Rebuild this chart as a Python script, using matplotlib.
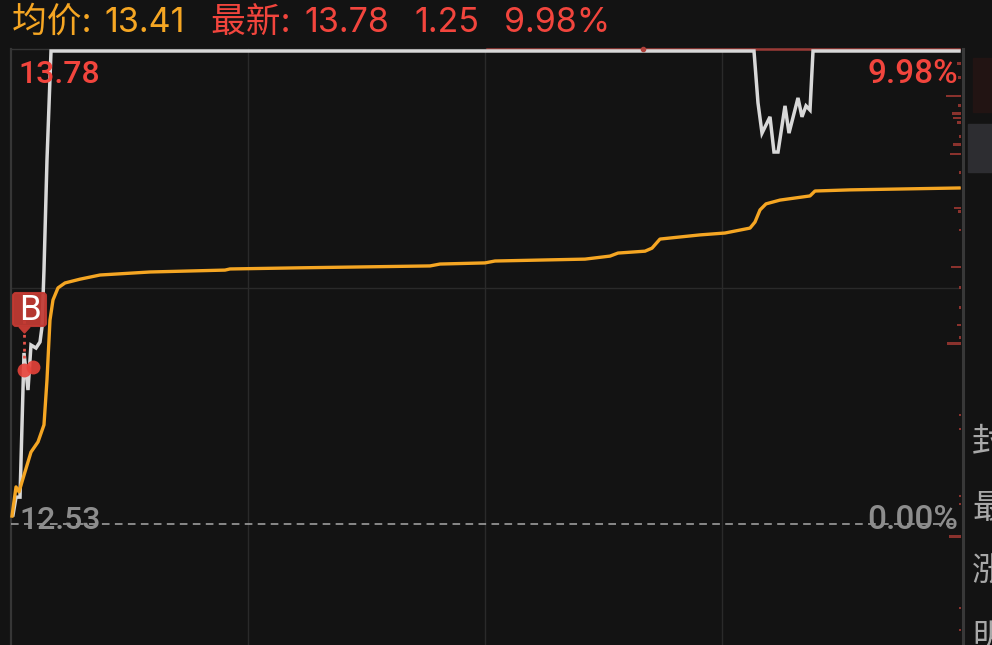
import matplotlib
matplotlib.use('Agg')
import matplotlib.pyplot as plt
from matplotlib.patches import FancyBboxPatch, Polygon, Rectangle
from matplotlib.transforms import Affine2D

plt.rcParams['font.family'] = ['Roboto', 'Noto Sans CJK SC', 'DejaVu Sans']
CABECERA = ['Inter', 'Noto Sans CJK SC', 'DejaVu Sans']

# precio (minutos de sesion, precio)
precio_t = [0.51, 1.27, 2.28, 3.29, 4.30, 5.06, 6.33, 7.34, 7.85, 8.35, 9.11, 10.13, 188.10, 189.11, 190.13,
            192.15, 193.16, 194.18, 195.95, 196.96, 199.24, 200.25, 201.27, 202.28, 203.04, 240.0]
precio_v = [12.554, 12.601, 12.601, 12.982, 12.884, 13.003, 12.995, 13.011, 13.051, 13.201, 13.492, 13.78, 13.78,
            13.643, 13.563, 13.606, 13.513, 13.513, 13.635, 13.563, 13.656, 13.606, 13.635, 13.624, 13.78, 13.78]

media_t = [0.25, 1.27, 2.03, 3.29, 5.06, 6.84, 8.35, 9.11, 9.87, 10.63, 11.90, 13.67, 17.47, 22.53, 35.19, 54.18,
           55.44, 73.16, 106.08, 108.61, 120.0, 122.53, 145.32, 151.65, 153.67, 160.51, 162.28, 164.30, 174.43,
           180.76, 187.09, 188.35, 189.62, 191.14, 194.68, 202.28, 203.54, 212.41, 240.0]
media_v = [12.551, 12.628, 12.615, 12.659, 12.720, 12.747, 12.792, 12.911, 13.069, 13.122, 13.154, 13.167, 13.177,
           13.188, 13.196, 13.201, 13.204, 13.207, 13.212, 13.217, 13.220, 13.225, 13.230, 13.238, 13.246, 13.251,
           13.259, 13.283, 13.294, 13.299, 13.312, 13.328, 13.360, 13.376, 13.386, 13.397, 13.410, 13.413, 13.418]

# volumen por nivel de precio
vol_precio = [13.746, 13.709, 13.661, 13.637, 13.614, 13.603, 13.592, 13.555, 13.532, 13.508, 13.460, 13.418, 13.365,
              13.355, 13.307, 13.209, 13.154, 13.103, 13.056, 13.022, 13.008, 12.818, 12.781, 12.604, 12.583, 12.496,
              12.308, 12.250]
vol_cant = [4, 3, 15, 3, 9, 8, 4, 2, 8, 11, 2, 4, 7, 3, 2, 10, 2, 2, 4, 2, 14, 2, 2, 2, 2, 12, 2, 2]

compras_t = [3.29, 5.57]
compras_v = [12.937, 12.945]

cierre_previo = 12.53
limite = 13.78
medio = 13.155
horas = [60, 120, 180]

FONDO = '#131313'
ROJO = '#f2453d'
AMBAR = '#f5a623'
GRIS = '#2a2a2a'

fig = plt.figure(figsize=(9.92, 6.45), dpi=100, facecolor=FONDO)
ax = fig.add_axes([0, 0, 1, 1], facecolor=FONDO)
ax.set_xlim(-11 / 3.95, 981 / 3.95)
ax.set_ylim(12.53 - 121 / 378.4, 12.53 + 524 / 378.4)
ax.axis('off')

# pixeles de la imagen, origen arriba a la izquierda
px = Affine2D().scale(1, -1).translate(0, 645)

# rejilla
for h in horas:
    ax.plot([h, h], [12.2, 13.785], color=GRIS, lw=1, zorder=1)
ax.plot([0, 240], [medio, medio], color=GRIS, lw=1, zorder=1)
ax.plot([0, 0], [12.2, 13.785], color='#363636', lw=1.6, zorder=1)
ax.plot([0, 240], [13.785, 13.785], color='#363636', lw=1, zorder=1)
ax.plot([240.9, 240.9], [12.2, 13.785], color='#383838', lw=2.2, zorder=1)
ax.plot([0, 240], [cierre_previo, cierre_previo], color='#a8a8a8', lw=1.1, ls=(0, (5, 3.5)), zorder=2)

# volumen
ax.barh(vol_precio, [-v / 3.95 for v in vol_cant], left=240.4, height=0.0075, color='#8a322d', zorder=2)

# paneles de la derecha
ax.add_patch(Rectangle((973, 58), 19, 54, transform=px, color='#221413', zorder=1))
ax.add_patch(Rectangle((968, 124), 24, 48, transform=px, color='#2d2d31', zorder=1))

ax.plot([120.5, 240], [13.785, 13.785], color='#9b3a36', lw=1.8, zorder=2)
ax.plot(precio_t, precio_v, color='#d8d8d8', lw=2.5, zorder=3, solid_joinstyle='miter')
ax.plot(media_t, media_v, color=AMBAR, lw=2.4, zorder=4)
ax.plot([160], [13.785], 'o', color='#b0403a', ms=3, zorder=4)

# marca de compra
ax.plot([3.3, 3.3], [12.97, 13.07], color='#e8534b', lw=2, ls=(0, (1, 1.5)), zorder=5)
ax.plot(compras_t, compras_v, 'o', color='#e8433b', ms=10, mew=0, alpha=0.9, zorder=5)
ax.add_patch(FancyBboxPatch((13, 293), 33, 33, boxstyle='round,pad=0,rounding_size=3', transform=px,
                            fc='#c23a33', ec='#c23a33', lw=1.5, alpha=0.93, zorder=6))
ax.add_patch(Polygon([(19, 327), (30, 327), (24.5, 333)], transform=px, color='#c23a33', zorder=6))
ax.text(30, 310, 'B', transform=px, color='white', fontsize=25, ha='center', va='center', zorder=7)

# cabecera
ax.text(12, 32, '均价: ', transform=px, color=AMBAR, fontsize=25, va='baseline', family=CABECERA)
ax.text(104, 32, '13.41', transform=px, color=AMBAR, fontsize=24.5, va='baseline', family=CABECERA)
ax.text(211, 32, '最新: ', transform=px, color=ROJO, fontsize=25, va='baseline', family=CABECERA)
ax.text(304, 32, '13.78', transform=px, color=ROJO, fontsize=24.5, va='baseline', family=CABECERA)
ax.text(414, 32, '1.25', transform=px, color=ROJO, fontsize=24.5, va='baseline', family=CABECERA)
ax.text(504, 32, '9.98%', transform=px, color=ROJO, fontsize=24.5, va='baseline', family=CABECERA)

# etiquetas del eje
ax.text(18, 83, '13.78', transform=px, color=ROJO, fontsize=23, va='baseline', weight='medium', zorder=8)
ax.text(958, 83, '9.98%', transform=px, color=ROJO, fontsize=24, va='baseline', ha='right', weight='medium', zorder=8)
ax.text(19, 529, '12.53', transform=px, color='#8d8d8d', fontsize=23, va='baseline', weight='medium', zorder=8)
ax.text(958, 529, '0.00%', transform=px, color='#8d8d8d', fontsize=24, va='baseline', ha='right', weight='medium', zorder=8)

for y, t in zip([452, 518, 582, 647], ['封', '最', '涨', '明']):
    ax.text(972, y, t, transform=px, color='#a8a8a8', fontsize=24, va='baseline', clip_on=True)

fig.savefig('out.png', dpi=100, facecolor=FONDO)
